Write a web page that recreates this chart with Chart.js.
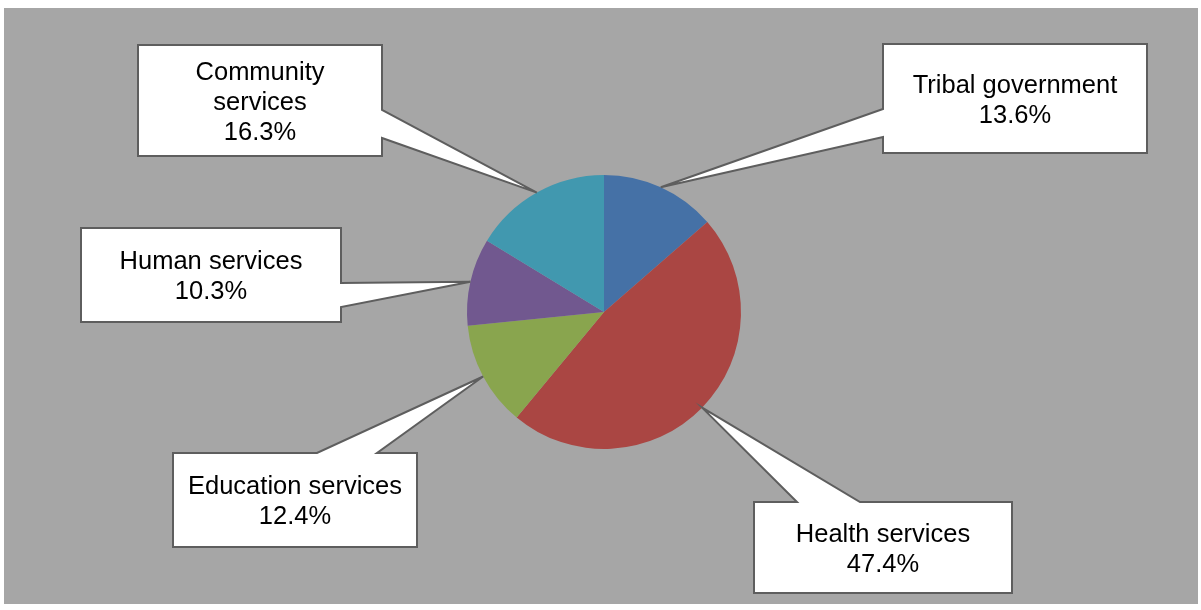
<!DOCTYPE html>
<html>
<head>
<meta charset="utf-8">
<script src="https://cdn.jsdelivr.net/npm/chart.js@4/dist/chart.umd.min.js"></script>
<style>
    html, body { margin: 0; padding: 0; background: #ffffff; }
    #wrap { width: 1201px; height: 610px; }
</style>
</head>
<body>
<div id="wrap"><canvas id="pie01" width="1201" height="610"></canvas></div>
<script>
// data
const categories = ['Tribal government', 'Health services', 'Education services', 'Human services', 'Community services'];
const shares = [13.6, 47.4, 12.4, 10.3, 16.3];
const sliceColors = ['#4571a6', '#aa4643', '#89a54e', '#71588f', '#4198af'];

// callout box layout (same order as categories)
const calloutBoxes = [
    { x1: 883, y1: 44, x2: 1147, y2: 153, side: 'left', a: 109, b: 137, split: false },
    { x1: 754, y1: 502, x2: 1012, y2: 593, side: 'top', a: 797, b: 860, split: false },
    { x1: 173, y1: 453, x2: 417, y2: 547, side: 'top', a: 317, b: 377, split: false },
    { x1: 81, y1: 228, x2: 341, y2: 322, side: 'right', a: 283, b: 307, split: false },
    { x1: 138, y1: 45, x2: 382, y2: 156, side: 'right', a: 110, b: 138, split: true },
];

const FONT = '25.5px "Liberation Sans", Arial, sans-serif';
const LINE_H = 30;

const greyBackground = {
    id: 'greyBackground',
    beforeDraw(chart) {
        const { ctx } = chart;
        ctx.save();
        ctx.fillStyle = '#a6a6a6';
        ctx.fillRect(4, 8, 1194, 596);
        ctx.restore();
    },
};

// draws box + pointer whose tip sits on the slice's outer edge at its mid angle
const calloutLabels = {
    id: 'calloutLabels',
    afterDraw(chart) {
        const { ctx } = chart;
        const meta = chart.getDatasetMeta(0);
        meta.data.forEach((arc, i) => {
            const box = calloutBoxes[i];
            const p = arc.getProps(['x', 'y', 'startAngle', 'endAngle', 'outerRadius'], true);
            const mid = (p.startAngle + p.endAngle) / 2;
            const tx = p.x + Math.cos(mid) * p.outerRadius;
            const ty = p.y + Math.sin(mid) * p.outerRadius;

            ctx.save();
            ctx.beginPath();
            ctx.moveTo(box.x1, box.y1);
            if (box.side === 'top') {
                ctx.lineTo(box.a, box.y1);
                ctx.lineTo(tx, ty);
                ctx.lineTo(box.b, box.y1);
            }
            ctx.lineTo(box.x2, box.y1);
            if (box.side === 'right') {
                ctx.lineTo(box.x2, box.a);
                ctx.lineTo(tx, ty);
                ctx.lineTo(box.x2, box.b);
            }
            ctx.lineTo(box.x2, box.y2);
            ctx.lineTo(box.x1, box.y2);
            if (box.side === 'left') {
                ctx.lineTo(box.x1, box.b);
                ctx.lineTo(tx, ty);
                ctx.lineTo(box.x1, box.a);
            }
            ctx.closePath();
            ctx.fillStyle = '#ffffff';
            ctx.fill();
            ctx.lineWidth = 2;
            ctx.lineJoin = 'miter';
            ctx.strokeStyle = '#5e5e5e';
            ctx.stroke();

            const name = categories[i];
            const lines = box.split ? name.split(' ') : [name];
            lines.push(shares[i].toFixed(1) + '%');
            const cx = (box.x1 + box.x2) / 2;
            const cy = (box.y1 + box.y2) / 2 + 2;
            const startY = cy - ((lines.length - 1) * LINE_H) / 2;
            ctx.font = FONT;
            ctx.fillStyle = '#000000';
            ctx.textAlign = 'center';
            ctx.textBaseline = 'middle';
            lines.forEach((t, k) => ctx.fillText(t, cx, startY + k * LINE_H));
            ctx.restore();
        });
    },
};

const ctx = document.getElementById('pie01').getContext('2d');
const chart = new Chart(ctx, {
    type: 'pie',
    data: {
        labels: categories,
        datasets: [
            {
                data: shares,
                backgroundColor: sliceColors,
                borderWidth: 0,
            },
        ],
    },
    options: {
        responsive: false,
        animation: false,
        events: [],
        layout: {
            padding: { left: 467, right: 460, top: 175, bottom: 161 },
        },
        plugins: {
            legend: { display: false },
            tooltip: { enabled: false },
            title: { display: false },
        },
    },
    plugins: [greyBackground, calloutLabels],
});
</script>
</body>
</html>
